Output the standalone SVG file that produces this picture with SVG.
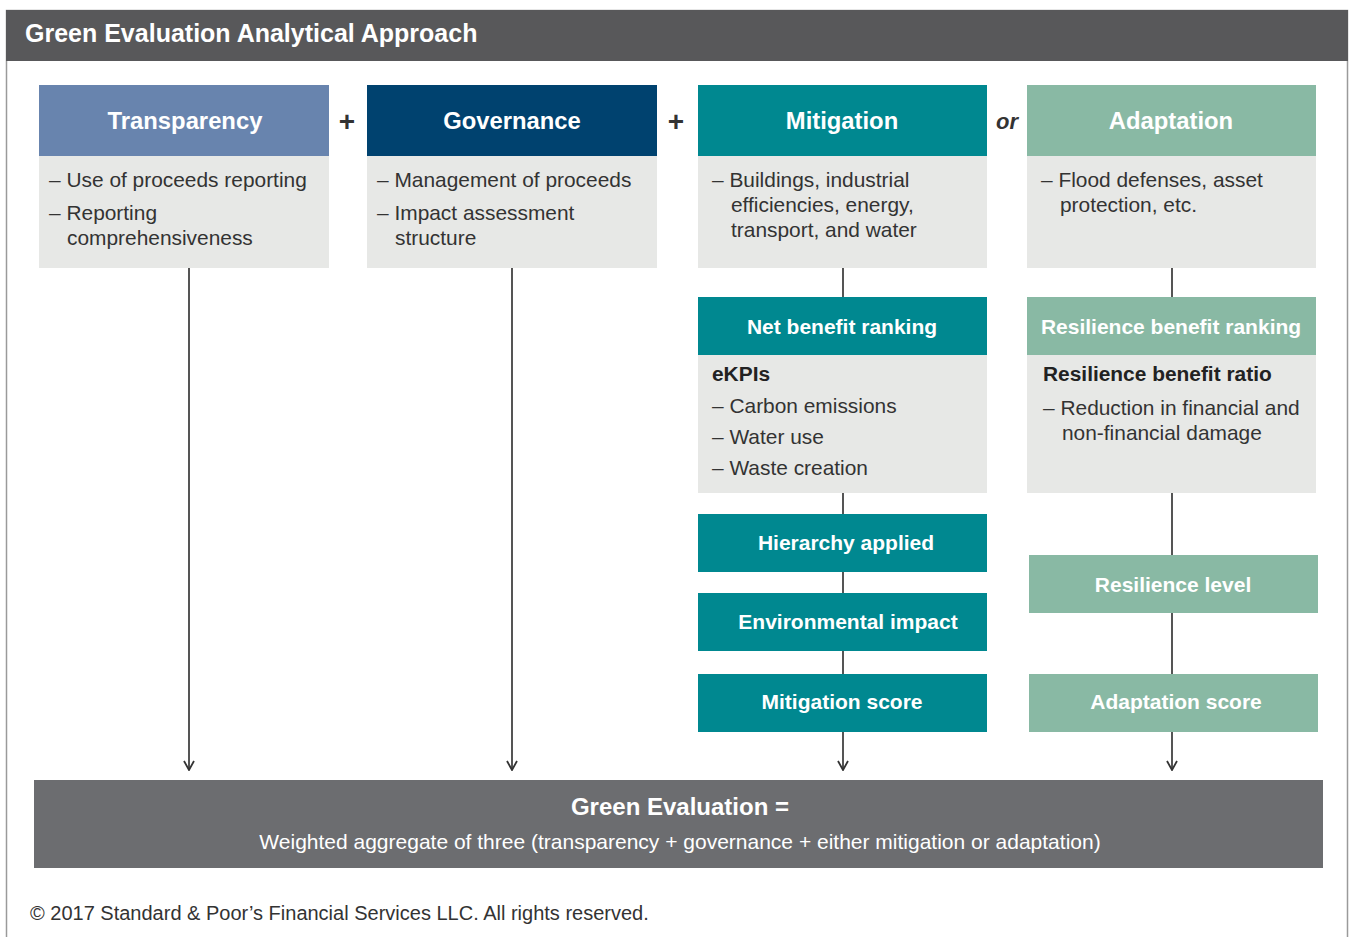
<svg xmlns="http://www.w3.org/2000/svg" width="1349" height="937" viewBox="0 0 1349 937">
<defs>
<style>
.t{font-family:"Liberation Sans",Arial,sans-serif}
.hd{font-family:"Liberation Sans",Arial,sans-serif;font-weight:bold;font-size:23.8px;fill:#fff;text-anchor:middle}
.sh{font-family:"Liberation Sans",Arial,sans-serif;font-weight:bold;font-size:21px;fill:#fff;text-anchor:middle}
.bd{font-family:"Liberation Sans",Arial,sans-serif;font-size:20.9px;fill:#333}
.bb{font-family:"Liberation Sans",Arial,sans-serif;font-size:20.9px;font-weight:bold;fill:#222}
.body{fill:#e7e8e6}
.con{stroke:#555;stroke-width:2;fill:none}
</style>
<marker id="ar" viewBox="0 0 12 12" refX="11" refY="6" markerWidth="12" markerHeight="12" markerUnits="userSpaceOnUse" orient="auto">
<path d="M2,1 L11,6 L2,11" fill="none" stroke="#333" stroke-width="1.8"/>
</marker>
</defs>
<rect x="0" y="0" width="1349" height="937" fill="#fff"/>
<rect x="6.5" y="10.5" width="1341" height="940" fill="#fff" stroke="#9a9a9a" stroke-width="1.5"/>
<g id="header">
<rect x="6" y="10" width="1342" height="51" fill="#58585a"/>
<text x="25" y="42" class="t" font-size="25" font-weight="bold" fill="#fff">Green Evaluation Analytical Approach</text>
</g>

<g id="connectors">
<line class="con" x1="189" y1="268" x2="189" y2="770" marker-end="url(#ar)"/>
<line class="con" x1="512" y1="268" x2="512" y2="770" marker-end="url(#ar)"/>
<line class="con" x1="843" y1="268" x2="843" y2="297"/>
<line class="con" x1="843" y1="493" x2="843" y2="514"/>
<line class="con" x1="843" y1="572" x2="843" y2="593"/>
<line class="con" x1="843" y1="651" x2="843" y2="674"/>
<line class="con" x1="843" y1="732" x2="843" y2="770" marker-end="url(#ar)"/>
<line class="con" x1="1172" y1="268" x2="1172" y2="297"/>
<line class="con" x1="1172" y1="493" x2="1172" y2="555"/>
<line class="con" x1="1172" y1="613" x2="1172" y2="674"/>
<line class="con" x1="1172" y1="732" x2="1172" y2="770" marker-end="url(#ar)"/>
</g>

<g id="transparency">
<rect x="39" y="85" width="290" height="71" fill="#6884ae"/>
<text x="185" y="129" class="hd">Transparency</text>
<rect x="39" y="156" width="290" height="112" class="body"/>
<text x="49" y="187" class="bd">– Use of proceeds reporting</text>
<text x="49" y="220" class="bd">– Reporting</text>
<text x="67" y="245" class="bd">comprehensiveness</text>
</g>

<g id="plus1"><text x="347" y="131" class="t" font-size="28" font-weight="bold" fill="#333" text-anchor="middle">+</text></g>

<g id="governance">
<rect x="367" y="85" width="290" height="71" fill="#00426f"/>
<text x="512" y="129" class="hd">Governance</text>
<rect x="367" y="156" width="290" height="112" class="body"/>
<text x="377" y="187" class="bd">– Management of proceeds</text>
<text x="377" y="220" class="bd">– Impact assessment</text>
<text x="395" y="245" class="bd">structure</text>
</g>

<g id="plus2"><text x="676" y="131" class="t" font-size="28" font-weight="bold" fill="#333" text-anchor="middle">+</text></g>

<g id="mitigation">
<rect x="698" y="85" width="289" height="71" fill="#008890"/>
<text x="842" y="129" class="hd">Mitigation</text>
<rect x="698" y="156" width="289" height="112" class="body"/>
<text x="712" y="187" class="bd">– Buildings, industrial</text>
<text x="731" y="212" class="bd">efficiencies, energy,</text>
<text x="731" y="237" class="bd">transport, and water</text>
</g>

<g id="or"><text x="1007" y="129" class="t" font-size="22" font-weight="bold" font-style="italic" fill="#333" text-anchor="middle">or</text></g>

<g id="adaptation">
<rect x="1027" y="85" width="289" height="71" fill="#89b9a4"/>
<text x="1171" y="129" class="hd">Adaptation</text>
<rect x="1027" y="156" width="289" height="112" class="body"/>
<text x="1041" y="187" class="bd">– Flood defenses, asset</text>
<text x="1060" y="212" class="bd">protection, etc.</text>
</g>

<g id="net-benefit">
<rect x="698" y="297" width="289" height="58" fill="#008890"/>
<text x="842" y="334" class="sh">Net benefit ranking</text>
<rect x="698" y="355" width="289" height="138" class="body"/>
<text x="712" y="381" class="bb">eKPIs</text>
<text x="712" y="413" class="bd">– Carbon emissions</text>
<text x="712" y="444" class="bd">– Water use</text>
<text x="712" y="475" class="bd">– Waste creation</text>
</g>

<g id="resilience-benefit">
<rect x="1027" y="297" width="289" height="58" fill="#89b9a4"/>
<text x="1171" y="334" class="sh">Resilience benefit ranking</text>
<rect x="1027" y="355" width="289" height="138" class="body"/>
<text x="1043" y="381" class="bb">Resilience benefit ratio</text>
<text x="1043" y="415" class="bd">– Reduction in financial and</text>
<text x="1062" y="440" class="bd">non-financial damage</text>
</g>

<g id="hierarchy">
<rect x="698" y="514" width="289" height="58" fill="#008890"/>
<text x="846" y="550" class="sh">Hierarchy applied</text>
</g>
<g id="environmental">
<rect x="698" y="593" width="289" height="58" fill="#008890"/>
<text x="848" y="629" class="sh">Environmental impact</text>
</g>
<g id="mitigation-score">
<rect x="698" y="674" width="289" height="58" fill="#008890"/>
<text x="842" y="709" class="sh">Mitigation score</text>
</g>
<g id="resilience-level">
<rect x="1029" y="555" width="289" height="58" fill="#89b9a4"/>
<text x="1173" y="592" class="sh">Resilience level</text>
</g>
<g id="adaptation-score">
<rect x="1029" y="674" width="289" height="58" fill="#89b9a4"/>
<text x="1176" y="709" class="sh">Adaptation score</text>
</g>

<g id="green-evaluation">
<rect x="34" y="780" width="1289" height="88" fill="#6c6d70"/>
<text x="680" y="815" class="t" font-size="24" font-weight="bold" fill="#fff" text-anchor="middle">Green Evaluation =</text>
<text x="680" y="849" class="t" font-size="21" fill="#fff" text-anchor="middle">Weighted aggregate of three (transparency + governance + either mitigation or adaptation)</text>
</g>

<g id="footer">
<text x="30" y="920" class="t" font-size="20" fill="#333">© 2017 Standard &amp; Poor’s Financial Services LLC. All rights reserved.</text>
</g>
</svg>
